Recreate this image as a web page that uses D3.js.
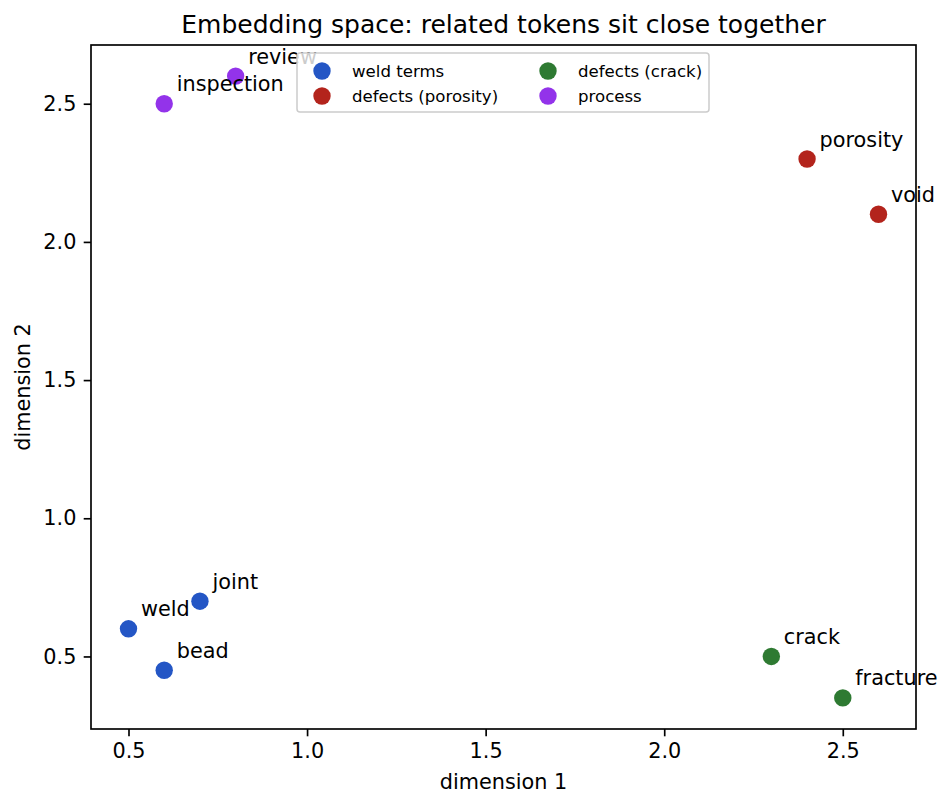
<!DOCTYPE html>
<html>
<head>
    <script src="https://cdnjs.cloudflare.com/ajax/libs/d3/7.8.5/d3.min.js"></script>
    <style>
        body { margin: 0; background: #fff; }
        svg text { font-family: "DejaVu Sans", sans-serif; fill: #000; }
        .axis path, .axis line { stroke: #000; stroke-width: 1.67px; }
        .axis text { font-size: 20.8px; }
    </style>
</head>
<body>
    <div id="chart"></div>
    <script>
        const tokens = ["weld", "bead", "joint", "porosity", "void", "crack", "fracture", "inspection", "review"];
        const dim1 = [0.5, 0.6, 0.7, 2.4, 2.6, 2.3, 2.5, 0.6, 0.8];
        const dim2 = [0.6, 0.45, 0.7, 2.3, 2.1, 0.5, 0.35, 2.5, 2.6];
        const tokenGroup = [0, 0, 0, 1, 1, 2, 2, 3, 3];
        const groupNames = ["weld terms", "defects (porosity)", "defects (crack)", "process"];
        const groupColors = ["#2456c5", "#b3241c", "#2e7a32", "#9333ea"];
        const xTicks = [0.5, 1.0, 1.5, 2.0, 2.5];
        const yTicks = [0.5, 1.0, 1.5, 2.0, 2.5];

        const width = 952, height = 807;
        const margin = { left: 91, right: 36, top: 45, bottom: 78 };
        const innerW = width - margin.left - margin.right;
        const innerH = height - margin.top - margin.bottom;

        const svg = d3.select("#chart").append("svg")
            .attr("width", width).attr("height", height);

        // matplotlib-like 5% padding on the data range
        const xr = d3.extent(dim1), yr = d3.extent(dim2);
        const xpad = (xr[1] - xr[0]) * 0.05, ypad = (yr[1] - yr[0]) * 0.05;
        const x = d3.scaleLinear().domain([xr[0] - xpad, xr[1] + xpad]).range([0, innerW]);
        const y = d3.scaleLinear().domain([yr[0] - ypad, yr[1] + ypad]).range([innerH, 0]);

        const g = svg.append("g").attr("transform", `translate(${margin.left},${margin.top})`);

        g.append("g").attr("class", "axis")
            .attr("transform", `translate(0,${innerH})`)
            .call(d3.axisBottom(x).tickValues(xTicks).tickFormat(d3.format(".1f"))
                .tickSizeInner(7.3).tickSizeOuter(0).tickPadding(7.3))
            .call(a => a.select(".domain").remove());

        g.append("g").attr("class", "axis")
            .call(d3.axisLeft(y).tickValues(yTicks).tickFormat(d3.format(".1f"))
                .tickSizeInner(7.3).tickSizeOuter(0).tickPadding(7.3))
            .call(a => a.select(".domain").remove());

        g.append("rect")
            .attr("width", innerW).attr("height", innerH)
            .attr("fill", "none").attr("stroke", "#000").attr("stroke-width", 1.67);

        const pts = tokens.map((t, i) => ({ t, x: dim1[i], y: dim2[i], grp: tokenGroup[i] }));

        g.append("g").selectAll("circle")
            .data(pts).enter().append("circle")
            .attr("cx", d => x(d.x)).attr("cy", d => y(d.y))
            .attr("r", 8.7)
            .attr("fill", d => groupColors[d.grp]);

        g.append("g").selectAll("text")
            .data(pts).enter().append("text")
            .attr("x", d => x(d.x) + 12.5).attr("y", d => y(d.y) - 12.5)
            .attr("font-size", 20.8)
            .text(d => d.t);

        // legend, upper center, two columns
        const leg = g.append("g").attr("transform", `translate(${206},${8})`);
        leg.append("rect")
            .attr("width", 412).attr("height", 59).attr("rx", 3)
            .attr("fill", "#fff").attr("fill-opacity", 0.8)
            .attr("stroke", "#cccccc").attr("stroke-width", 1.5);
        groupNames.forEach((name, i) => {
            const col = Math.floor(i / 2), row = i % 2;
            const item = leg.append("g")
                .attr("transform", `translate(${25 + col * 226},${18 + row * 25})`);
            item.append("circle").attr("r", 8.7).attr("fill", groupColors[i]);
            item.append("text").attr("x", 30).attr("dy", "0.35em")
                .attr("font-size", 16.6).text(name);
        });

        svg.append("text")
            .attr("x", margin.left + innerW / 2).attr("y", 33)
            .attr("text-anchor", "middle").attr("font-size", 25)
            .text("Embedding space: related tokens sit close together");

        svg.append("text")
            .attr("x", margin.left + innerW / 2).attr("y", 789)
            .attr("text-anchor", "middle").attr("font-size", 20.8)
            .text("dimension 1");

        svg.append("text")
            .attr("transform", `translate(30,${margin.top + innerH / 2}) rotate(-90)`)
            .attr("text-anchor", "middle").attr("font-size", 20.8)
            .text("dimension 2");
    </script>
</body>
</html>
